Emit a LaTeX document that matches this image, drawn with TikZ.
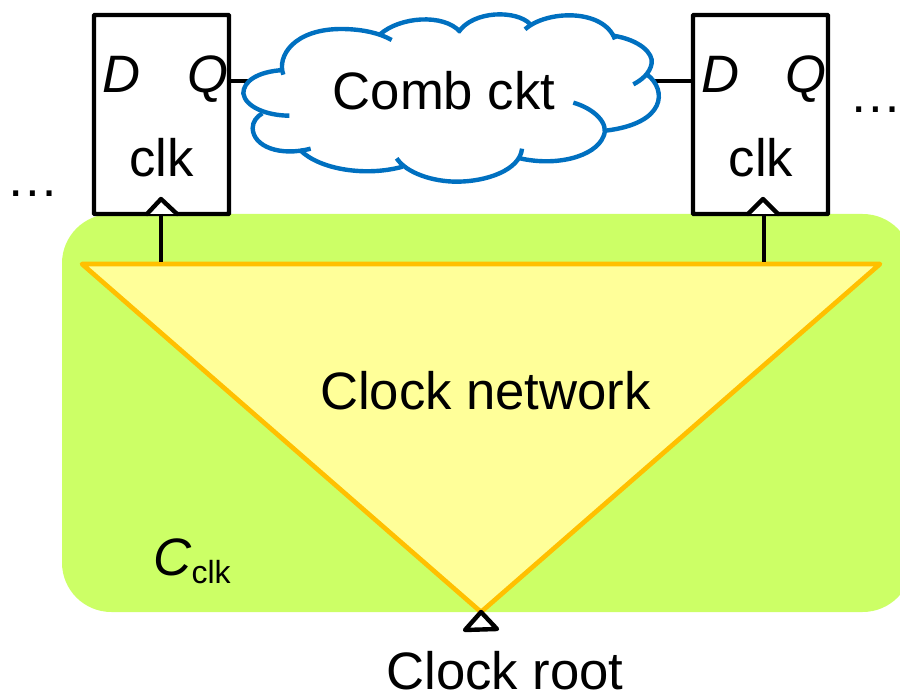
\documentclass[tikz,border=0pt]{standalone}
\usepackage{fontspec}
\setmainfont{Liberation Sans}
\definecolor{greenbg}{HTML}{CCFF66}
\definecolor{yellowfill}{HTML}{FFFF99}
\definecolor{orangeline}{HTML}{FFC000}
\definecolor{cloudblue}{HTML}{0070C0}
\newlength{\pxu}\setlength{\pxu}{0.75pt}
\tikzset{
  ffbox/.style={draw=black,fill=white,line width=3.3pt,minimum width=135\pxu,minimum height=199\pxu,inner sep=0pt,rounded corners=0.5pt},
  lbl/.style={font=\fontsize{39.5}{44}\selectfont,inner sep=0pt,text=black,anchor=base},
  ilbl/.style={font=\fontsize{39.5}{44}\selectfont\itshape,inner sep=0pt,text=black,anchor=base},
  wire/.style={draw=black,line width=3.3pt},
  cloudstroke/.style={draw=cloudblue,line width=3.3pt},
  clockmark/.style={draw=black,fill=white,line width=3.3pt,line join=round,line cap=round},
}
\begin{document}
\begin{tikzpicture}[x=0.75pt,y=-0.75pt]
\useasboundingbox (0,0) rectangle (900,695);
\begin{scope}
\clip (0,0) rectangle (900,695);
\fill[greenbg,rounded corners=37pt] (62,214) rectangle (912,612);
\end{scope}
% flip-flops
\node[ffbox] (ffa) at (161.5,114.5) {};
\node[ffbox] (ffb) at (760.5,114.5) {};
% wires
\coordinate (cloudw) at (260,81);
\coordinate (cloude) at (650,81);
\draw[wire] (ffa.east |- cloudw) -- (cloudw);
\draw[wire] (cloude) -- (ffb.west |- cloude);
% clock network triangle
\coordinate (tl) at (82,264);
\coordinate (tr) at (880,264);
\coordinate (tb) at (481,612);
\draw[fill=yellowfill,draw=orangeline,line width=3.5pt,line join=round] (tl) -- (tr) -- (tb) -- cycle;
% stems and clock marks
\coordinate (ma) at (161,199);
\coordinate (mb) at (763,199);
\draw[clockmark] (147,214) -- (ma) -- (177,214);
\draw[clockmark] (748,214) -- (mb) -- (778,214);
\draw[wire] (161,214) -- (161,262);
\draw[wire] (764,214) -- (764,262);
\draw[clockmark] (tb) -- (497,629) -- (465,630) -- cycle;
% cloud
\fill[white] (245,93) .. controls (250,75) and (265,72) .. (283,71)
  .. controls (280,40) and (330,25) .. (380,35)
  .. controls (410,12) and (440,15) .. (460,30)
  .. controls (480,8) and (515,12) .. (530,28)
  .. controls (560,5) and (600,15) .. (614,36)
  .. controls (650,45) and (655,65) .. (648,75)
  .. controls (670,95) and (665,125) .. (605,131)
  .. controls (600,160) and (550,165) .. (521,158)
  .. controls (505,185) and (430,190) .. (396,166)
  .. controls (360,178) and (310,170) .. (300,150)
  .. controls (260,155) and (240,125) .. (262,113)
  .. controls (245,108) and (240,100) .. (245,93) -- cycle;
\begin{scope}[shift={(220,0)},x=0.25pt,y=-0.25pt,cloudstroke]
\draw (190,210) .. controls (110,215) and (70,245) .. (70,280) .. controls (75,320) and (140,347) .. (208,347);
\draw (190,224) .. controls (170,170) and (220,85) .. (370,87) .. controls (430,88) and (480,100) .. (515,120);
\draw (480,103) .. controls (540,50) and (670,40) .. (720,95);
\draw (715,97) .. controls (760,30) and (890,30) .. (930,72);
\draw (915,88) .. controls (980,30) and (1150,25) .. (1185,118);
\draw (1180,107) .. controls (1260,120) and (1300,160) .. (1295,190) .. controls (1290,220) and (1265,240) .. (1240,253);
\draw (1283,225) .. controls (1340,270) and (1340,370) .. (1157,392);
\draw (1060,308) .. controls (1120,325) and (1170,370) .. (1150,410) .. controls (1125,470) and (1010,500) .. (900,475);
\draw (906,446) .. controls (900,510) and (800,545) .. (710,545) .. controls (640,545) and (560,520) .. (530,475);
\draw (548,500) .. controls (440,530) and (300,510) .. (240,450);
\draw (272,446) .. controls (180,470) and (100,440) .. (98,385) .. controls (98,365) and (110,350) .. (127,340);
\end{scope}
% labels
\node[ilbl] (da) at (122,93) {D};
\node[ilbl] (qa) at (208,93) {Q};
\node[lbl] (ca) at (161.5,177) {clk};
\node[ilbl] (db) at (721,93) {D};
\node[ilbl] (qb) at (806,93) {Q};
\node[lbl] (cb) at (761,177) {clk};
\node[lbl] (comb) at (444,110) {Comb ckt};
\node[lbl] (dl) at (33,197) {…};
\node[lbl] (dr) at (876,113) {…};
\node[lbl] (net) at (485.5,409) {Clock network};
\node[lbl,anchor=base west] (cc) at (153,575) {\textit{C}\raisebox{-6pt}{\fontsize{24}{28}\selectfont clk}};
\node[lbl] (root) at (505,689) {Clock root};
\end{tikzpicture}
\end{document}
